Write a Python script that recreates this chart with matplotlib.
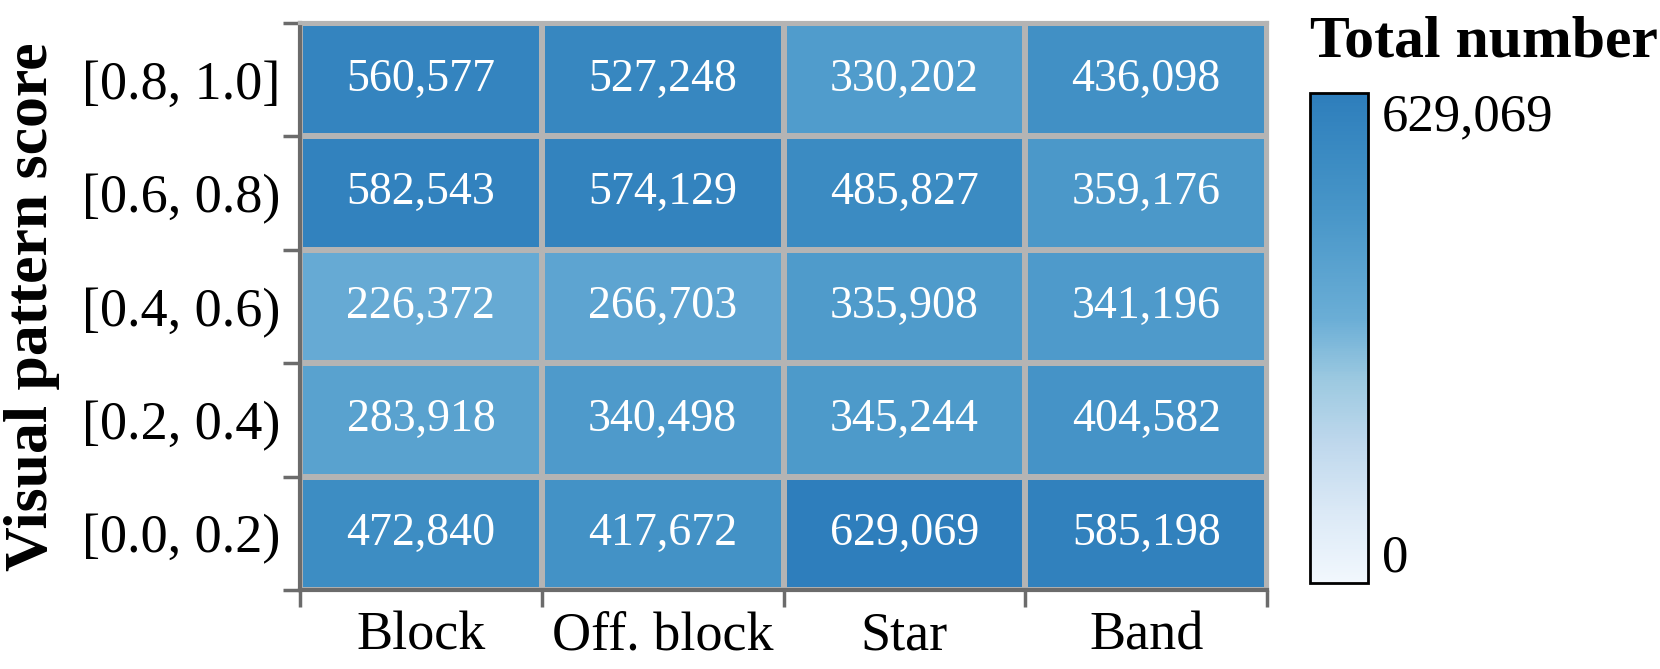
import numpy as np
import matplotlib
matplotlib.use("Agg")
import matplotlib.pyplot as plt
from matplotlib.colors import LinearSegmentedColormap, PowerNorm

# ===== DATA =====
ROW_LABELS = ["[0.8, 1.0]", "[0.6, 0.8)", "[0.4, 0.6)", "[0.2, 0.4)", "[0.0, 0.2)"]
COL_LABELS = ["Block", "Off. block", "Star", "Band"]
BLOCK = [560577, 582543, 226372, 283918, 472840]
OFF_BLOCK = [527248, 574129, 266703, 340498, 417672]
STAR = [330202, 485827, 335908, 345244, 629069]
BAND = [436098, 359176, 341196, 404582, 585198]

# ===== STYLE =====
FONT = "Liberation Serif"
GRID_COLOR = "#b4b4b4"
AXIS_COLOR = "#6b6b6b"
plt.rcParams["font.family"] = [FONT, "DejaVu Serif"]

values = np.array([BLOCK, OFF_BLOCK, STAR, BAND]).T  # rows x cols, top row first
vmax = values.max()

# blue ramp
_pos = [0.0, 0.14, 0.28, 0.41, 0.54, 0.74, 0.87, 1.0]
_blu = [0.03, 0.14, 0.27, 0.375, 0.5, 0.60, 0.65, 0.70]
cmap = LinearSegmentedColormap.from_list(
    "legend_blues", [(p, plt.cm.Blues(b)) for p, b in zip(_pos, _blu)])
norm = PowerNorm(gamma=0.55, vmin=0, vmax=vmax)

fig = plt.figure(figsize=(16.6, 6.69), dpi=100)
ax = fig.add_axes([300 / 1660, 79 / 669, 967 / 1660, 567 / 669])

nrows, ncols = values.shape
mesh = ax.pcolormesh(np.arange(ncols + 1), np.arange(nrows + 1), values,
                     cmap=cmap, norm=norm, edgecolors=GRID_COLOR, linewidth=3)
ax.set_xlim(0, ncols)
ax.set_ylim(nrows, 0)

for i in range(nrows):
    for j in range(ncols):
        ax.text(j + 0.5, i + 0.5, f"{values[i, j]:,}", ha="center", va="center",
                color="white", fontsize=33)

# labels at centers, tick marks at cell boundaries
ax.set_xticks(np.arange(ncols) + 0.5)
ax.set_xticklabels(COL_LABELS, fontsize=39)
ax.set_yticks(np.arange(nrows) + 0.5)
ax.set_yticklabels(ROW_LABELS, fontsize=39)
ax.tick_params(which="major", length=0, pad=14)
ax.tick_params(axis="x", which="major", pad=15)
ax.set_xticks(np.arange(ncols + 1), minor=True)
ax.set_yticks(np.arange(nrows + 1), minor=True)
ax.tick_params(which="minor", length=12, width=2.5, color=AXIS_COLOR)

for s in ("left", "bottom"):
    ax.spines[s].set_color(AXIS_COLOR)
    ax.spines[s].set_linewidth(3)
for s in ("top", "right"):
    ax.spines[s].set_color(GRID_COLOR)
    ax.spines[s].set_linewidth(3)

ax.set_ylabel("Visual pattern score", fontsize=44.5, fontweight="bold")
ax.yaxis.set_label_coords(-0.248, 0.5)

# colour legend
cax = fig.add_axes([1310 / 1660, 86 / 669, 58 / 1660, 490 / 669])
cb = fig.colorbar(mesh, cax=cax)
cb.outline.set_linewidth(2)
cb.set_ticks([0, vmax])
cb.set_ticklabels(["0", f"{vmax:,}"])
cax.tick_params(length=0, pad=10, labelsize=38)
labels = cax.get_yticklabels()
labels[0].set_va("bottom")
labels[1].set_va("top")
cax.set_title("Total number", loc="left", fontsize=43, fontweight="bold", pad=26)

fig.savefig("out.png", dpi=100)
